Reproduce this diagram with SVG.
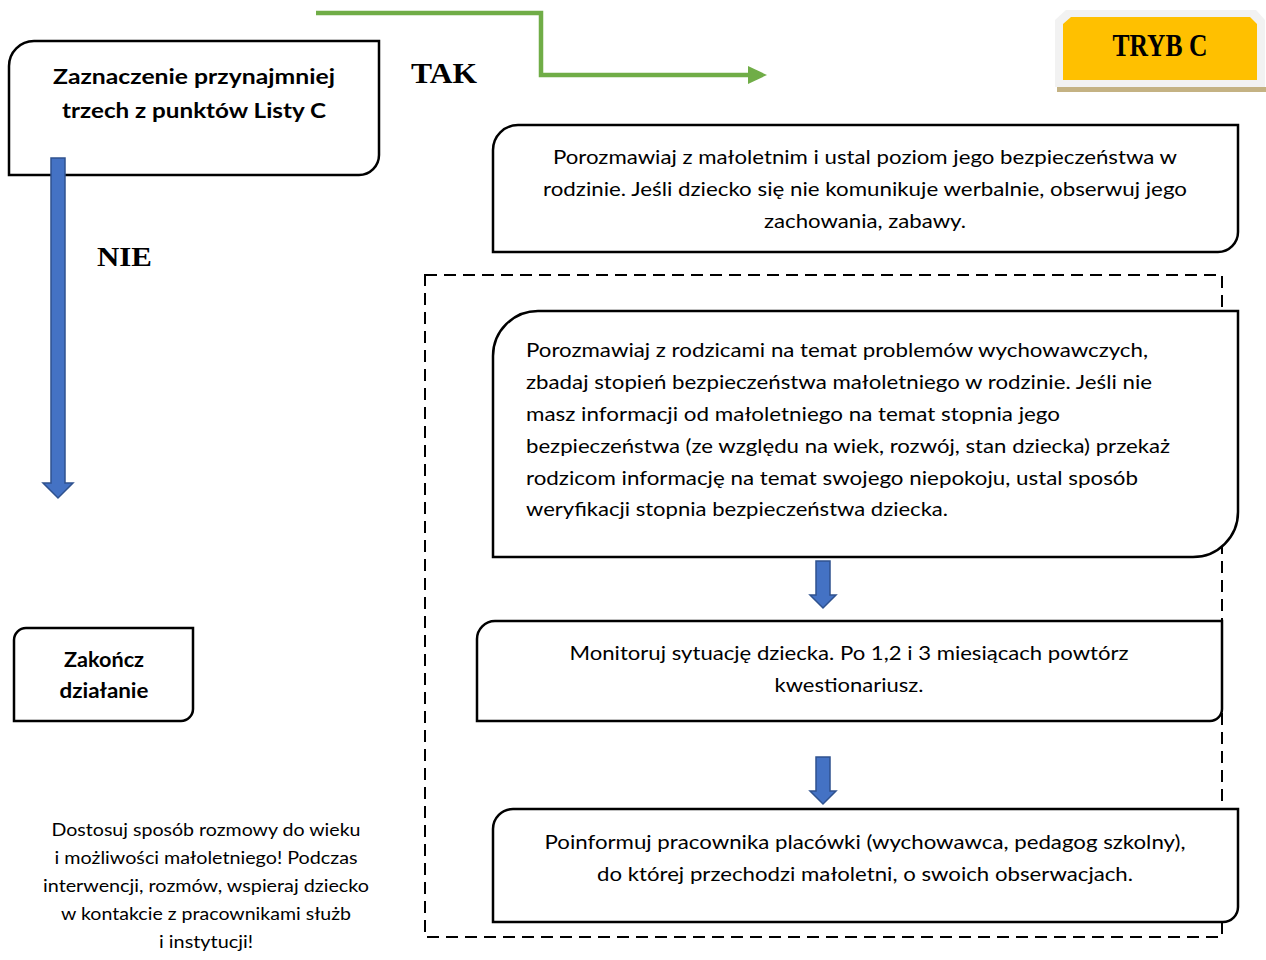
<svg xmlns="http://www.w3.org/2000/svg" width="1266" height="960" viewBox="0 0 1266 960">
<style>
.box{fill:#fff;stroke:#000;stroke-width:2.5}
.t{font-family:Lato,"Open Sans","Liberation Sans",sans-serif;font-size:20px;fill:#000}
.c{text-anchor:middle}
.b{font-weight:bold;font-size:21px}
.n{font-size:17px}
.tr{font-family:"Liberation Serif","Times New Roman",serif;font-weight:bold;fill:#000}
.blue{fill:#4472C4;stroke:#2F528F;stroke-width:1.5}
</style>
<rect width="1266" height="960" fill="#fff"/>

<g id="tryb">
<rect x="1057" y="87" width="210" height="5" fill="#C4B283"/>
<path d="M1066,10 H1256 L1265,20 V87 H1055 V20 Z" fill="#F2F2F2"/>
<path d="M1071,17 H1250 L1257,24 V80 H1063 V24 Z" fill="#FFC000"/>
<text class="tr c" x="1160" y="56" font-size="32" textLength="95" lengthAdjust="spacingAndGlyphs">TRYB C</text>
</g>

<g id="start">
<path class="box" d="M34,41 H379 V155 A20,20 0 0 1 359,175 H9 V66 A25,25 0 0 1 34,41 Z"/>
<text class="t c b" x="194" y="84" textLength="282" lengthAdjust="spacingAndGlyphs">Zaznaczenie przynajmniej</text>
<text class="t c b" x="194" y="118" textLength="264" lengthAdjust="spacingAndGlyphs">trzech z punktów Listy C</text>
</g>

<g id="connectors">
<polyline points="316,13 541,13 541,75 750,75" fill="none" stroke="#70AD47" stroke-width="4.5"/>
<polygon points="748,66 767,75 748,84" fill="#70AD47"/>
<path class="blue" d="M51,158 H65 V483 H73 L58,498 L43,483 H51 Z"/>
<path class="blue" stroke-width="1" d="M816,561 H830 V595 H836 L823,608 L810,595 H816 Z"/>
<path class="blue" stroke-width="1" d="M816,757 H830 V791 H836 L823,804 L810,791 H816 Z"/>
<rect x="425" y="275" width="797" height="662" fill="none" stroke="#000" stroke-width="2" stroke-dasharray="12,7"/>
</g>

<g id="labels">
<text class="tr" x="411" y="83" font-size="30" textLength="66" lengthAdjust="spacingAndGlyphs">TAK</text>
<text class="tr" x="97" y="266" font-size="28" textLength="55" lengthAdjust="spacingAndGlyphs">NIE</text>
</g>

<g id="box-malolet">
<path class="box" d="M518,125 H1238 V232 A20,20 0 0 1 1218,252 H493 V150 A25,25 0 0 1 518,125 Z"/>
<text class="t c" x="865" y="164" textLength="624" lengthAdjust="spacingAndGlyphs">Porozmawiaj z małoletnim i ustal poziom jego bezpieczeństwa w</text>
<text class="t c" x="865" y="196" textLength="644" lengthAdjust="spacingAndGlyphs">rodzinie. Jeśli dziecko się nie komunikuje werbalnie, obserwuj jego</text>
<text class="t c" x="865" y="228" textLength="202" lengthAdjust="spacingAndGlyphs">zachowania, zabawy.</text>
</g>

<g id="box-rodzice">
<path class="box" d="M538,311 H1238 V512 A45,45 0 0 1 1193,557 H493 V356 A45,45 0 0 1 538,311 Z"/>
<text class="t" x="526" y="357" textLength="622" lengthAdjust="spacingAndGlyphs">Porozmawiaj z rodzicami na temat problemów wychowawczych,</text>
<text class="t" x="526" y="389" textLength="626" lengthAdjust="spacingAndGlyphs">zbadaj stopień bezpieczeństwa małoletniego w rodzinie. Jeśli nie</text>
<text class="t" x="526" y="421" textLength="534" lengthAdjust="spacingAndGlyphs">masz informacji od małoletniego na temat stopnia jego</text>
<text class="t" x="526" y="453" textLength="644" lengthAdjust="spacingAndGlyphs">bezpieczeństwa (ze względu na wiek, rozwój, stan dziecka) przekaż</text>
<text class="t" x="526" y="485" textLength="612" lengthAdjust="spacingAndGlyphs">rodzicom informację na temat swojego niepokoju, ustal sposób</text>
<text class="t" x="526" y="516" textLength="422" lengthAdjust="spacingAndGlyphs">weryfikacji stopnia bezpieczeństwa dziecka.</text>
</g>

<g id="box-monitoruj">
<path class="box" d="M495,621 H1222 V709 A12,12 0 0 1 1210,721 H477 V639 A18,18 0 0 1 495,621 Z"/>
<text class="t c" x="849" y="660" textLength="559" lengthAdjust="spacingAndGlyphs">Monitoruj sytuację dziecka. Po 1,2 i 3 miesiącach powtórz</text>
<text class="t c" x="849" y="692" textLength="149" lengthAdjust="spacingAndGlyphs">kwestionariusz.</text>
</g>

<g id="box-poinformuj">
<path class="box" d="M513,809 H1238 V907 A15,15 0 0 1 1223,922 H493 V829 A20,20 0 0 1 513,809 Z"/>
<text class="t c" x="865" y="849" textLength="641" lengthAdjust="spacingAndGlyphs">Poinformuj pracownika placówki (wychowawca, pedagog szkolny),</text>
<text class="t c" x="865" y="881" textLength="536" lengthAdjust="spacingAndGlyphs">do której przechodzi małoletni, o swoich obserwacjach.</text>
</g>

<g id="box-zakoncz">
<path class="box" d="M26,628 H193 V709 A12,12 0 0 1 181,721 H14 V640 A12,12 0 0 1 26,628 Z"/>
<text class="t c b" x="104" y="667" textLength="80" lengthAdjust="spacingAndGlyphs">Zakończ</text>
<text class="t c b" x="104" y="698" textLength="89" lengthAdjust="spacingAndGlyphs">działanie</text>
</g>

<g id="note">
<text class="t c n" x="206" y="836" textLength="309" lengthAdjust="spacingAndGlyphs">Dostosuj sposób rozmowy do wieku</text>
<text class="t c n" x="206" y="864" textLength="303" lengthAdjust="spacingAndGlyphs">i możliwości małoletniego! Podczas</text>
<text class="t c n" x="206" y="892" textLength="326" lengthAdjust="spacingAndGlyphs">interwencji, rozmów, wspieraj dziecko</text>
<text class="t c n" x="206" y="920" textLength="290" lengthAdjust="spacingAndGlyphs">w kontakcie z pracownikami służb</text>
<text class="t c n" x="206" y="948" textLength="94" lengthAdjust="spacingAndGlyphs">i instytucji!</text>
</g>
</svg>
